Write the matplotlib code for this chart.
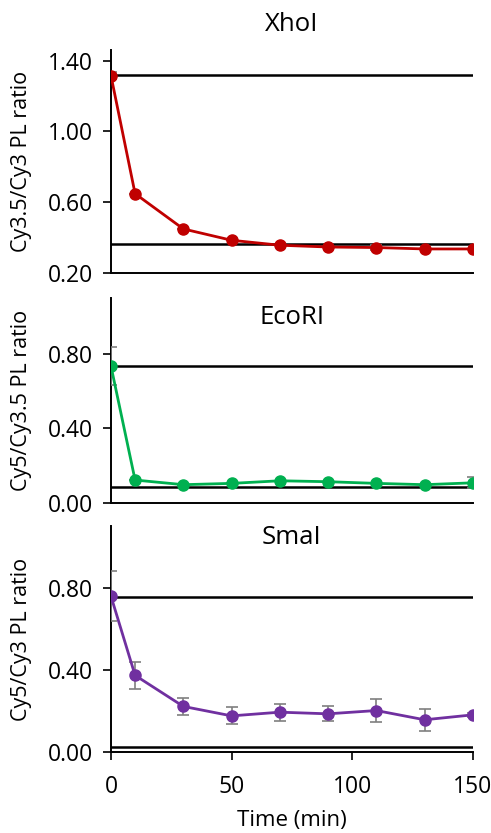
import numpy as np
import matplotlib
matplotlib.use("Agg")
import matplotlib.pyplot as plt

plt.rcParams['font.family'] = ['Open Sans', 'DejaVu Sans']

# -------------------
# DATA
# -------------------
time_min = [0, 10, 30, 50, 70, 90, 110, 130, 150]

xhoi_ratio = [1.315, 0.649, 0.450, 0.386, 0.358, 0.348, 0.345, 0.337, 0.337]
xhoi_err = [0.02, 0.0, 0.0, 0.0, 0.0, 0.0, 0.015, 0.0, 0.0]
xhoi_refs = [1.321, 0.363]

ecori_ratio = [0.735, 0.122, 0.097, 0.104, 0.118, 0.113, 0.104, 0.097, 0.107]
ecori_err = [0.10, 0.0, 0.0, 0.0, 0.0, 0.0, 0.0, 0.0, 0.03]
ecori_refs = [0.735, 0.083]

smai_ratio = [0.759, 0.374, 0.223, 0.177, 0.195, 0.187, 0.203, 0.158, 0.182]
smai_err = [0.12, 0.067, 0.042, 0.041, 0.041, 0.037, 0.057, 0.053, 0.01]
smai_refs = [0.756, 0.027]

panels = [
    dict(name="XhoI", y=xhoi_ratio, err=xhoi_err, refs=xhoi_refs, color="#C00000",
         ylabel="Cy3.5/Cy3 PL ratio", ylim=(0.2, 1.46), ticks=[0.2, 0.6, 1.0, 1.4],
         rect=[0.226, 0.672, 0.737, 0.268], title_y=1.112),
    dict(name="EcoRI", y=ecori_ratio, err=ecori_err, refs=ecori_refs, color="#00B050",
         ylabel="Cy5/Cy3.5 PL ratio", ylim=(0.0, 1.10), ticks=[0.0, 0.4, 0.8],
         rect=[0.226, 0.3965, 0.737, 0.2455], title_y=0.907),
    dict(name="SmaI", y=smai_ratio, err=smai_err, refs=smai_refs, color="#7030A0",
         ylabel="Cy5/Cy3 PL ratio", ylim=(0.0, 1.10), ticks=[0.0, 0.4, 0.8],
         rect=[0.226, 0.0969, 0.737, 0.2716], title_y=0.951),
]

# -------------------
# PLOT
# -------------------
fig = plt.figure(figsize=(4.91, 8.33), dpi=100)

for i, p in enumerate(panels):
    ax = fig.add_axes(p["rect"])
    for r in p["refs"]:
        ax.plot([0, 150], [r, r], color="black", linewidth=1.8, zorder=2)
    ax.errorbar(time_min, p["y"], yerr=p["err"], fmt="none", ecolor="#7F7F7F",
                elinewidth=1.2, capsize=4, capthick=1.2, zorder=3)
    ax.plot(time_min, p["y"], color=p["color"], linewidth=2.0, marker="o",
            markersize=8, zorder=4)

    ax.set_xlim(0, 150)
    ax.set_ylim(*p["ylim"])
    ax.set_yticks(p["ticks"])
    ax.set_yticklabels([f"{t:.2f}" for t in p["ticks"]])
    ax.set_ylabel(p["ylabel"], fontsize=15.5)
    ax.yaxis.set_label_coords(-0.218, 0.5)

    for s in ["top", "right"]:
        ax.spines[s].set_visible(False)
    for s in ["left", "bottom"]:
        ax.spines[s].set_linewidth(1.4)
    ax.tick_params(axis="y", direction="out", length=6, width=1.2, labelsize=16.5, pad=7)

    if i < 2:
        ax.set_xticks([])
    else:
        ax.set_xticks([0, 50, 100, 150])
        ax.tick_params(axis="x", direction="out", length=6, width=1.2, labelsize=16.5, pad=10)
        ax.set_xlabel("Time (min)", fontsize=16, labelpad=8)

    ax.text(0.5, p["title_y"], p["name"], transform=ax.transAxes, ha="center",
            va="center", fontsize=18.5)

    ax.patch.set_alpha(0)

fig.savefig("out.png", dpi=100, facecolor="white")
